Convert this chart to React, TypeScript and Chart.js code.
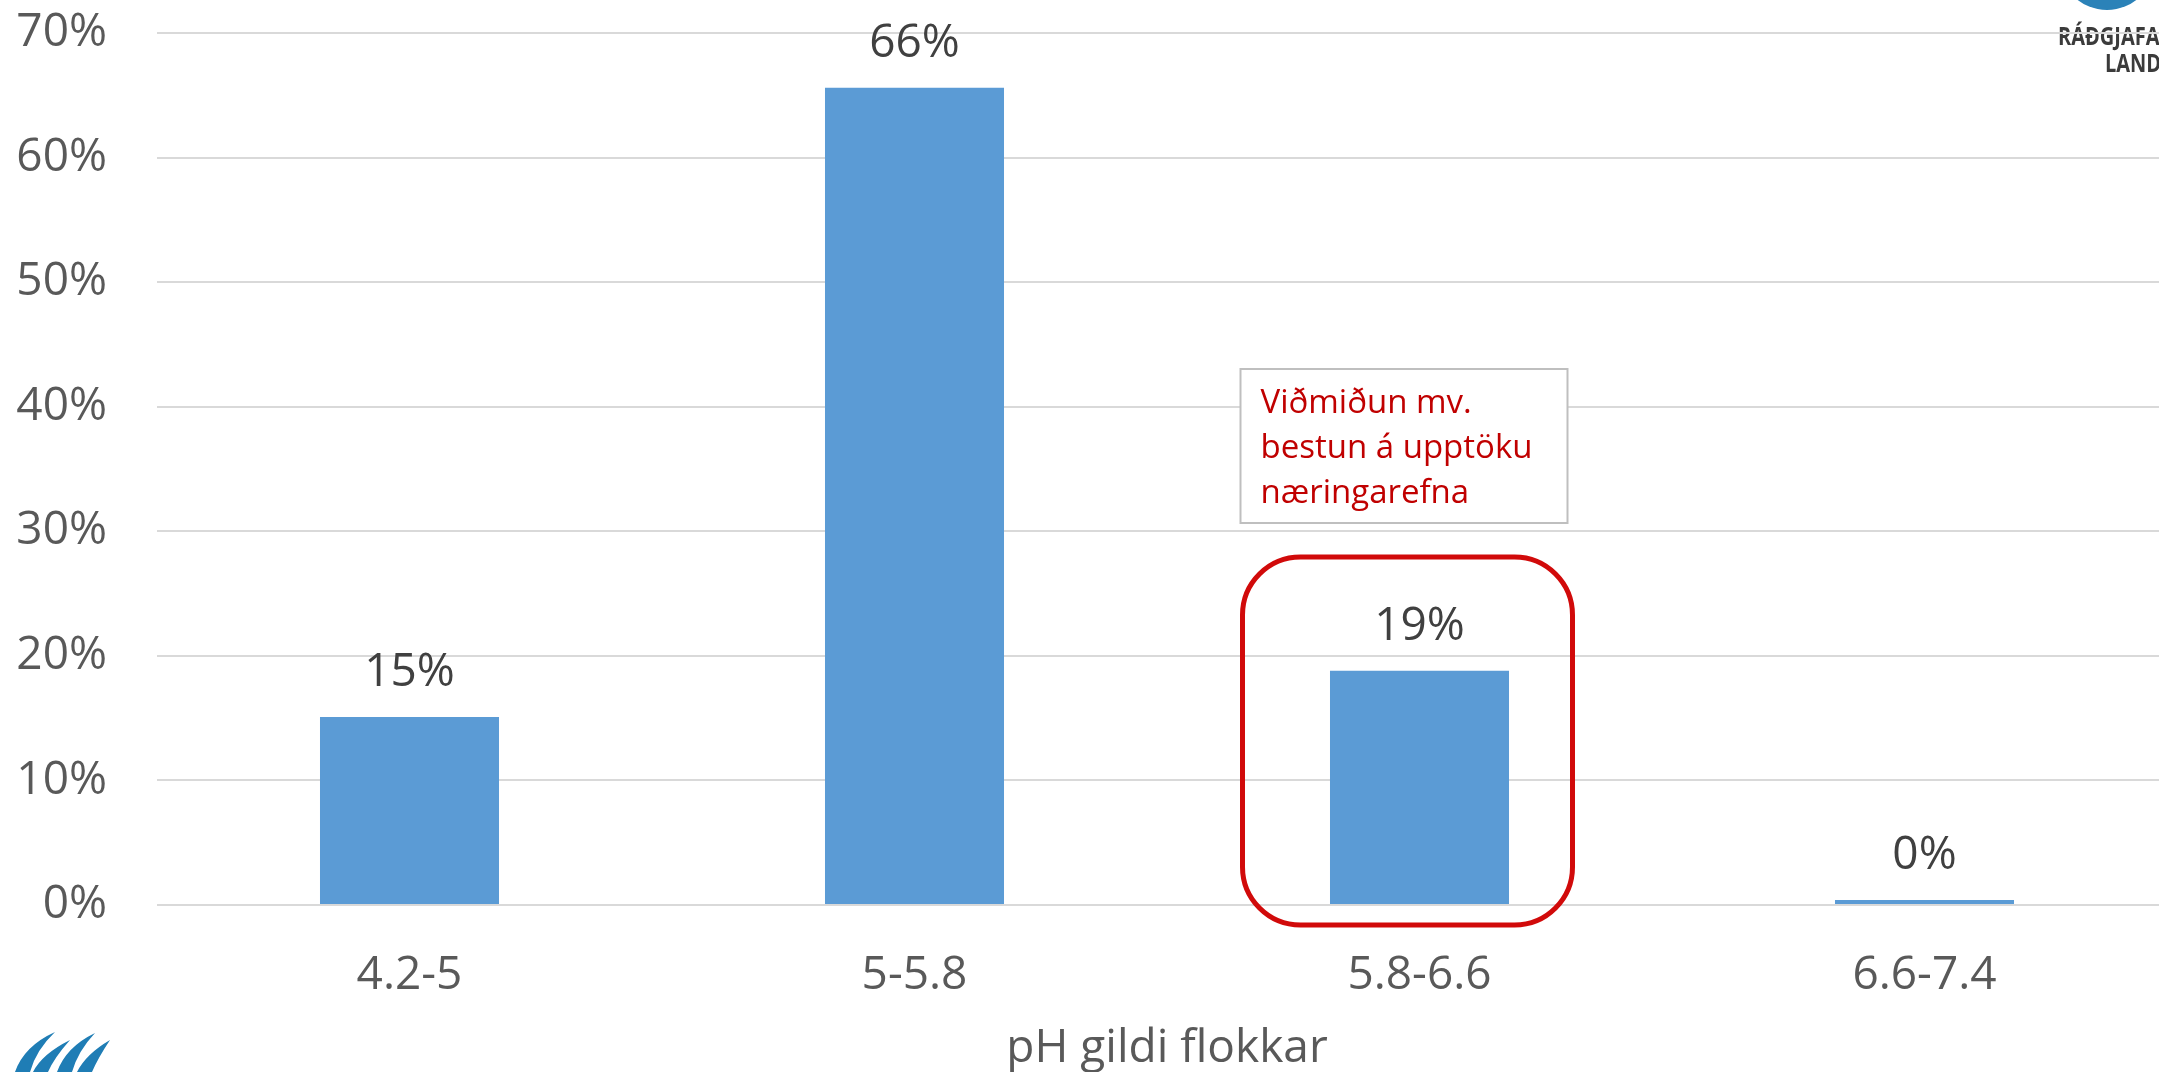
import React, { useEffect, useRef } from "react";
import { Chart, registerables } from "chart.js";

Chart.register(...registerables);

const categories = ["4.2-5", "5-5.8", "5.8-6.6", "6.6-7.4"];
const shares = [15.1, 65.6, 18.8, 0.4];
const yTicks = [0, 10, 20, 30, 40, 50, 60, 70];
const axisTitle = "pH gildi flokkar";
const noteLines = ["Viðmiðun mv.", "bestun á upptöku", "næringarefna"];
const logoLines = ["RÁÐGJAFARMIÐSTÖÐ", "LANDBÚNAÐARINS"];

const FONT = "'Open Sans', 'Noto Sans', sans-serif";
const CANVAS_W = 2200;
const CANVAS_H = 1072;

export default function App() {
  const ref = useRef<HTMLCanvasElement | null>(null);

  useEffect(() => {
    const canvas = ref.current;
    if (!canvas) return;

    const logoPlugin = {
      id: "logos",
      beforeDraw(chart: any) {
        const ctx = chart.ctx;
        ctx.save();
        ctx.fillStyle = "#2b82b8";
        ctx.beginPath();
        ctx.arc(2107, -38, 48, 0, Math.PI * 2);
        ctx.fill();
        ctx.fillStyle = "#3b3b3b";
        ctx.font = `bold 25px ${FONT}`;
        ctx.textBaseline = "alphabetic";
        ctx.textAlign = "left";
        ctx.save();
        ctx.translate(2058, 45);
        ctx.scale(0.8, 1);
        ctx.fillText(logoLines[0], 0, 0);
        ctx.restore();
        ctx.save();
        ctx.translate(2105, 72);
        ctx.scale(0.8, 1);
        ctx.fillText(logoLines[1], 0, 0);
        ctx.restore();
        ctx.fillStyle = "#1f7db5";
        const blades = [
          [22, 55, 1032],
          [40, 70, 1040],
          [64, 95, 1033],
          [84, 110, 1040],
        ];
        for (const [bx, tx, ty] of blades) {
          ctx.beginPath();
          ctx.moveTo(bx - 7, CANVAS_H);
          ctx.quadraticCurveTo(bx + 2, ty + 14, tx, ty);
          ctx.quadraticCurveTo(bx + 14, ty + 18, bx + 8, CANVAS_H);
          ctx.closePath();
          ctx.fill();
        }
        ctx.restore();
      },
    };

    const labelPlugin = {
      id: "barLabels",
      afterDatasetsDraw(chart: any) {
        const ctx = chart.ctx;
        const meta = chart.getDatasetMeta(0);
        ctx.save();
        ctx.fillStyle = "#404040";
        ctx.font = `46px ${FONT}`;
        ctx.textAlign = "center";
        ctx.textBaseline = "middle";
        meta.data.forEach((el: any, i: number) => {
          ctx.fillText(Math.round(shares[i]) + "%", el.x, el.y - 44);
        });
        ctx.restore();
      },
    };

    const notePlugin = {
      id: "note",
      afterDraw(chart: any) {
        const ctx = chart.ctx;
        const xs = chart.scales.x;
        const area = chart.chartArea;
        const cx = xs.getPixelForValue(2) - 12;
        ctx.save();
        const l = cx - 165;
        const r = cx + 165;
        const t = area.bottom - 348;
        const b = area.bottom + 20;
        ctx.strokeStyle = "#d10a0a";
        ctx.lineWidth = 5;
        ctx.beginPath();
        ctx.roundRect(l, t, r - l, b - t, 58);
        ctx.stroke();
        const bl = cx - 167;
        const bt = 369;
        const bw = 327;
        const bh = 154;
        ctx.fillStyle = "#ffffff";
        ctx.fillRect(bl, bt, bw, bh);
        ctx.strokeStyle = "#bfbfbf";
        ctx.lineWidth = 2;
        ctx.strokeRect(bl, bt, bw, bh);
        ctx.fillStyle = "#c00000";
        ctx.font = `33px ${FONT}`;
        ctx.textAlign = "left";
        ctx.textBaseline = "alphabetic";
        noteLines.forEach((line, i) => {
          ctx.fillText(line, bl + 20, bt + 44 + i * 45);
        });
        ctx.restore();
      },
    };

    const chart = new Chart(canvas, {
      type: "bar",
      data: {
        labels: categories,
        datasets: [
          {
            data: shares,
            backgroundColor: "#5b9bd5",
            borderWidth: 0,
            barPercentage: 0.3545,
            categoryPercentage: 1,
          },
        ],
      },
      plugins: [logoPlugin, labelPlugin, notePlugin],
      options: {
        animation: false,
        responsive: false,
        devicePixelRatio: 1,
        layout: {
          padding: { top: 33, right: 23, left: 0, bottom: 0 },
        },
        plugins: {
          legend: { display: false },
          tooltip: { enabled: false },
        },
        scales: {
          x: {
            grid: { display: false },
            border: { display: false },
            ticks: {
              color: "#595959",
              font: { family: FONT, size: 46 },
              padding: 35,
            },
            title: {
              display: true,
              text: axisTitle,
              color: "#595959",
              font: { family: FONT, size: 46, lineHeight: 1 },
              padding: { top: 0, bottom: 0 },
            },
            afterFit(s: any) {
              s.height = 167;
              s.paddingLeft = 0;
              s.paddingRight = 0;
            },
          },
          y: {
            min: 0,
            max: 70,
            afterBuildTicks(s: any) {
              s.ticks = yTicks.map((v) => ({ value: v }));
            },
            grid: { color: "#d9d9d9", lineWidth: 2, drawTicks: false },
            border: { display: false },
            ticks: {
              color: "#595959",
              font: { family: FONT, size: 46 },
              padding: 50,
              callback: (v: any) => v + "%",
            },
            afterFit(s: any) {
              s.width = 157;
              s.paddingTop = 0;
              s.paddingBottom = 0;
            },
          },
        },
      },
    });

    return () => chart.destroy();
  }, []);

  return (
    <div
      style={{
        position: "fixed",
        left: 0,
        top: 0,
        width: 2159,
        height: 1072,
        overflow: "hidden",
        background: "#ffffff",
      }}
    >
      <canvas
        ref={ref}
        width={CANVAS_W}
        height={CANVAS_H}
        style={{ width: CANVAS_W, height: CANVAS_H, display: "block" }}
      />
    </div>
  );
}
